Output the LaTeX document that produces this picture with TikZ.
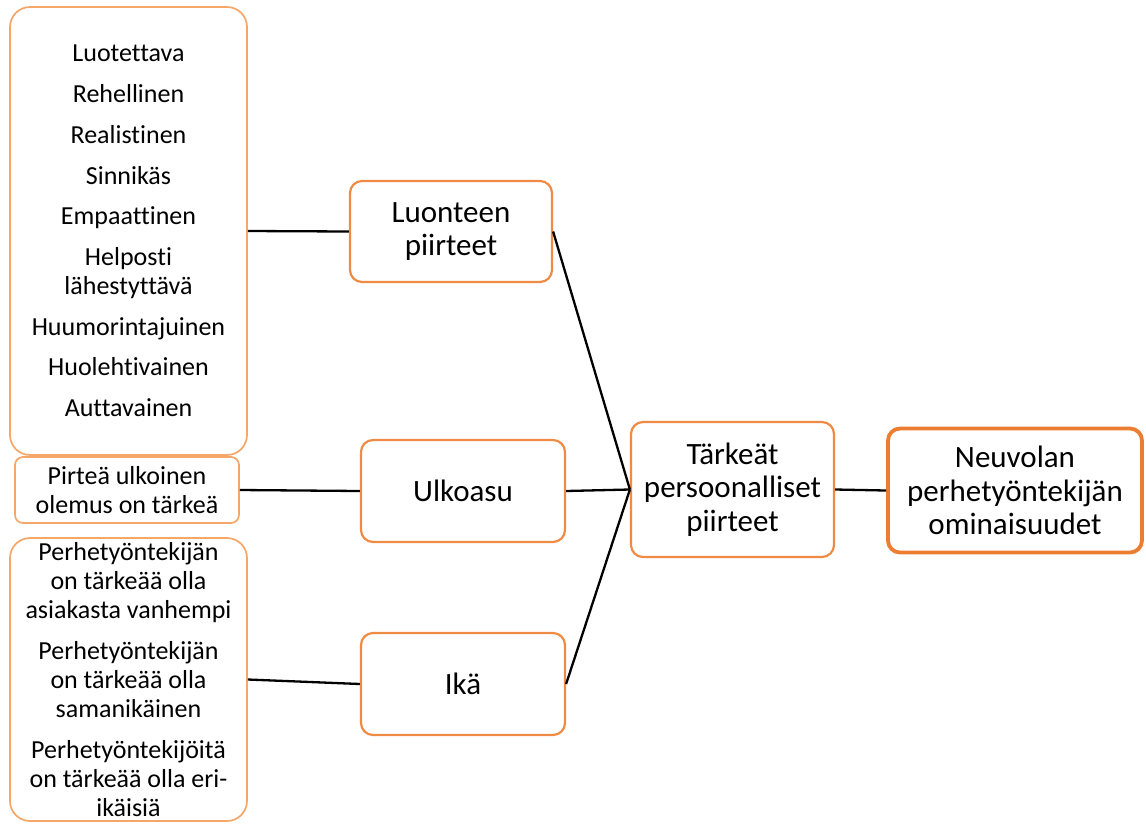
\documentclass[tikz,border=0pt]{standalone}
\usepackage{fontspec}
\setmainfont{Carlito}[Ligatures={NoCommon}]
\definecolor{lightor}{HTML}{F5A76A}
\definecolor{midor}{HTML}{EF8B45}
\definecolor{darkor}{HTML}{ED7D31}
\begin{document}
\begin{tikzpicture}[x=1pt,y=-1pt,
  listbox/.style={draw=lightor, line width=1.7pt, rounded corners=20pt, fill=white,
    inner sep=0pt, align=center, font=\fontsize{26}{29}\selectfont},
  smallbox/.style={listbox, rounded corners=8pt},
  midbox/.style={draw=midor, line width=2.2pt, rounded corners=12pt, fill=white,
    inner sep=0pt, align=center, font=\fontsize{31}{33.5}\selectfont},
  mainbox/.style={midbox, draw=darkor, line width=3.8pt},
  link/.style={draw=black, line width=2.3pt}]
\useasboundingbox (0,0) rectangle (1146,823);

% left column: detailed attributes
\node[listbox, minimum width=237pt, minimum height=448pt] (A) at (128.5,231)
  {Luotettava\\[11.7pt] Rehellinen\\[11.7pt] Realistinen\\[11.7pt] Sinnikäs\\[11.7pt]
   Empaattinen\\[11.7pt] Helposti\\ lähestyttävä\\[11.7pt] Huumorintajuinen\\[11.7pt]
   Huolehtivainen\\[11.7pt] Auttavainen};
\node[smallbox, minimum width=224pt, minimum height=66pt] (B) at (127,490)
  {Pirteä ulkoinen\\ olemus on tärkeä};
\node[listbox, minimum width=237pt, minimum height=283pt] (C) at (128.5,679.5)
  {Perhetyöntekijän\\ on tärkeää olla\\ asiakasta vanhempi\\[12pt]
   Perhetyöntekijän\\ on tärkeää olla\\ samanikäinen\\[12pt]
   Perhetyöntekijöitä\\ on tärkeää olla eri-\\ ikäisiä};

% middle column: trait groups
\node[midbox, minimum width=202pt, minimum height=101pt] (L) at (451,231.5)
  {Luonteen\\ piirteet};
\node[midbox, minimum width=204pt, minimum height=102pt] (U) at (463,491) {Ulkoasu};
\node[midbox, minimum width=204pt, minimum height=102pt] (I) at (463,684) {Ikä};

% right: summary and main concept
\node[midbox, minimum width=203pt, minimum height=135pt] (T) at (732.5,489.5)
  {Tärkeät\\ persoonalliset\\ piirteet};
\node[mainbox, minimum width=254pt, minimum height=124pt] (N) at (1015,490.5)
  {Neuvolan\\ perhetyöntekijän\\ ominaisuudet};

% connectors
\draw[link] (A.east) -- (L.west);
\draw[link] (B.east) -- (U.west);
\draw[link] (C.east) -- (I.west);
\draw[link] (L.east) -- (T.west);
\draw[link] (U.east) -- (T.west);
\draw[link] (I.east) -- (T.west);
\draw[link] (T.east) -- (N.west);
\end{tikzpicture}
\end{document}
